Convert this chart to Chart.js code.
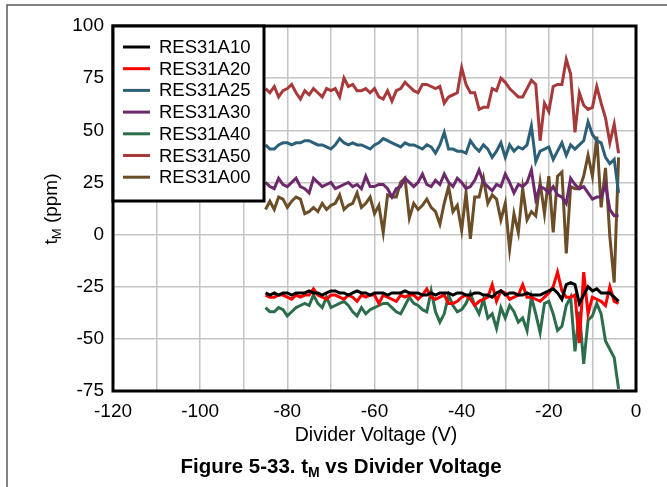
<!DOCTYPE html>
<html>
<head>
<meta charset="utf-8">
<script src="https://cdn.jsdelivr.net/npm/chart.js@4.4.1/dist/chart.umd.min.js"></script>
<style>
  html, body { margin: 0; padding: 0; background: #fff; }
  #wrap { width: 667px; height: 487px; position: relative; }
</style>
</head>
<body>
<div id="wrap"><canvas id="chart" width="667" height="487"></canvas></div>
<script>
const FONT = "'Liberation Sans', Arial, sans-serif";

// divider voltage (V)
const volts = [
  -85, -84, -83, -82, -81, -80, -79, -78, -77, -76,
  -75, -74, -73, -72, -71, -70, -69, -68, -67, -66,
  -65, -64, -63, -62, -61, -60, -59, -58, -57, -56,
  -55, -54, -53, -52, -51, -50, -49, -48, -47, -46,
  -45, -44, -43, -42, -41, -40, -39, -38, -37, -36,
  -35, -34, -33, -32, -31, -30, -29, -28, -27, -26,
  -25, -24, -23, -22, -21, -20, -19, -18, -17, -16,
  -15, -14, -13, -12, -11, -10, -9, -8, -7, -6,
  -5, -4
];

// tM (ppm) per part
const res31a10 = [
  -28, -29, -28, -29, -28, -28, -29, -28, -28, -28,
  -27, -28, -28, -29, -28, -27, -27, -28, -28, -29,
  -28, -27, -28, -28, -29, -28, -28, -28, -29, -28,
  -28, -28, -27, -28, -28, -28, -29, -29, -28, -29,
  -28, -28, -28, -29, -28, -28, -29, -29, -28, -28,
  -29, -29, -30, -28, -27, -29, -28, -28, -29, -29,
  -28, -29, -29, -29, -28, -27, -26, -28, -31, -24,
  -23, -24, -33, -29, -25, -27, -26, -28, -28, -28,
  -30, -32
];
const res31a20 = [
  -29, -30, -30, -29, -29, -30, -31, -29, -30, -29,
  -29, -26, -29, -30, -31, -29, -29, -30, -31, -29,
  -30, -32, -29, -30, -29, -29, -33, -29, -30, -31,
  -32, -29, -30, -29, -29, -31, -29, -26, -30, -31,
  -30, -29, -33, -33, -32, -30, -29, -31, -34, -32,
  -31, -30, -24, -32, -27, -28, -31, -30, -29, -24,
  -30, -30, -31, -32, -30, -28, -25, -18, -27, -30,
  -30, -29, -52, -18, -38, -30, -31, -32, -34, -25,
  -32, -33
];
const res31a25 = [
  43, 41, 41, 43, 44, 44, 43, 44, 44, 45,
  45, 44, 43, 43, 42, 41, 43, 46, 44, 43,
  44, 43, 43, 42, 41, 43, 44, 46, 45, 44,
  43, 42, 44, 43, 43, 42, 41, 43, 42, 39,
  43, 49, 41, 41, 40, 40, 39, 45, 42, 40,
  43, 41, 37, 40, 44, 37, 43, 40, 42, 41,
  43, 52, 35, 40, 41, 42, 36, 40, 44, 38,
  43, 41, 43, 45, 54, 48, 45, 44, 37, 34,
  36, 20
];
const res31a30 = [
  25, 23, 22, 27, 24, 23, 25, 27, 23, 22,
  20, 27, 25, 23, 24, 25, 22, 23, 24, 25,
  23, 24, 22, 28, 23, 23, 24, 24, 22, 18,
  22, 23, 27, 25, 23, 25, 29, 24, 23, 26,
  24, 29, 25, 23, 27, 25, 22, 23, 26, 31,
  25, 23, 21, 24, 23, 29, 25, 20, 24, 23,
  25, 31, 17, 23, 22, 20, 23, 19, 18, 15,
  27, 24, 22, 23, 20, 17, 18, 18, 24, 12,
  9, 9
];
const res31a40 = [
  -35, -37, -37, -35, -36, -39, -37, -35, -34, -33,
  -34, -29, -33, -35, -30, -35, -34, -33, -32, -34,
  -37, -39, -35, -38, -36, -35, -34, -33, -33, -35,
  -37, -38, -34, -30, -33, -34, -36, -37, -27, -37,
  -42, -38, -29, -34, -37, -36, -33, -28, -34, -38,
  -31, -40, -38, -45, -35, -40, -34, -37, -42, -40,
  -46, -30, -38, -47, -33, -32, -38, -46, -44, -34,
  -30, -56, -37, -62, -41, -39, -33, -38, -51, -55,
  -59, -74
];
const res31a50 = [
  70, 68, 71, 66, 69, 70, 72, 68, 65, 69,
  67, 70, 68, 66, 70, 69, 70, 66, 75, 71,
  72, 69, 69, 70, 68, 70, 66, 65, 69, 64,
  69, 70, 73, 71, 69, 68, 72, 72, 71, 70,
  71, 63, 66, 67, 68, 80, 72, 68, 68, 60,
  61, 61, 70, 69, 75, 73, 70, 68, 66, 66,
  70, 74, 72, 45, 63, 59, 71, 72, 72, 84,
  77, 49, 68, 62, 60, 61, 71, 63, 56, 44,
  53, 39
];
const res31a00 = [
  12, 16, 12, 18, 17, 13, 16, 18, 17, 10,
  11, 13, 11, 15, 12, 14, 15, 19, 12, 14,
  15, 20, 13, 15, 18, 10, 14, 1, 19, 18,
  18, 25, 27, 8, 15, 12, 14, 17, 13, 11,
  5, 15, 23, 11, 14, 2, 20, -2, 18, 18,
  27, 15, 19, 17, 7, 15, -7, 10, 1, 22,
  7, 11, 9, 25, 10, 28, 1, 28, 30, -9,
  23, 22, 22, 28, 38, 28, 47, 13, 32, -1,
  -23, 37
];

const seriesNames = ["RES31A10", "RES31A20", "RES31A25", "RES31A30", "RES31A40", "RES31A50", "RES31A00"];
const seriesValues = [res31a10, res31a20, res31a25, res31a30, res31a40, res31a50, res31a00];
const seriesColors = ["#000000", "#ff0000", "#2b6078", "#6c2a6c", "#2c6e4c", "#a8393a", "#6b4d27"];

const datasets = seriesNames.map((name, i) => ({
  label: name,
  data: volts.map((v, j) => ({ x: v, y: seriesValues[i][j] })),
  borderColor: seriesColors[i],
  backgroundColor: seriesColors[i],
  borderWidth: 3,
  pointRadius: 0,
  tension: 0,
  fill: false,
}));

// frame, plot border, legend box and titles
const decorations = {
  id: "decorations",
  afterDraw(chart) {
    const ctx = chart.ctx;
    const a = chart.chartArea;
    ctx.save();

    // page frame
    ctx.strokeStyle = "#5a5a5a";
    ctx.lineWidth = 1.5;
    ctx.beginPath();
    ctx.moveTo(7, 487);
    ctx.lineTo(7, 5);
    ctx.lineTo(667, 5);
    ctx.stroke();

    // plot border
    ctx.strokeStyle = "#000";
    ctx.lineWidth = 3;
    ctx.strokeRect(a.left, a.top, a.right - a.left, a.bottom - a.top);

    // legend
    const lx = a.left, ly = a.top, lw = 151, lh = 175;
    ctx.fillStyle = "#fff";
    ctx.fillRect(lx, ly, lw, lh);
    ctx.strokeRect(lx, ly, lw, lh);
    ctx.font = "18.5px " + FONT;
    ctx.textBaseline = "middle";
    ctx.textAlign = "left";
    seriesNames.forEach((name, i) => {
      const y = ly + 21 + i * 21.7;
      ctx.strokeStyle = seriesColors[i];
      ctx.lineWidth = 3;
      ctx.beginPath();
      ctx.moveTo(lx + 10, y);
      ctx.lineTo(lx + 37, y);
      ctx.stroke();
      ctx.fillStyle = "#000";
      ctx.fillText(name, lx + 46, y + 1);
    });

    // y axis title: t with subscript M
    ctx.save();
    ctx.translate(50, 209);
    ctx.rotate(-Math.PI / 2);
    ctx.fillStyle = "#000";
    ctx.textBaseline = "alphabetic";
    const big = "19px " + FONT, small = "13px " + FONT;
    ctx.font = big;
    const wt = ctx.measureText("t").width;
    const wr = ctx.measureText(" (ppm)").width;
    ctx.font = small;
    const wm = ctx.measureText("M").width;
    let x0 = -(wt + wm + wr) / 2;
    ctx.font = big;
    ctx.fillText("t", x0, 7);
    ctx.font = small;
    ctx.fillText("M", x0 + wt, 11);
    ctx.font = big;
    ctx.fillText(" (ppm)", x0 + wt + wm, 7);
    ctx.restore();

    // x axis title
    ctx.fillStyle = "#000";
    ctx.textAlign = "center";
    ctx.textBaseline = "middle";
    ctx.font = "19.5px " + FONT;
    ctx.fillText("Divider Voltage (V)", 376, 436);

    // figure caption
    const b1 = "Figure 5-33. t", b2 = "M", b3 = " vs Divider Voltage";
    const capBig = "bold 20.5px " + FONT, capSmall = "bold 14px " + FONT;
    ctx.textAlign = "left";
    ctx.textBaseline = "alphabetic";
    ctx.font = capBig;
    const w1 = ctx.measureText(b1).width, w3 = ctx.measureText(b3).width;
    ctx.font = capSmall;
    const w2 = ctx.measureText(b2).width;
    const cx = 341 - (w1 + w2 + w3) / 2;
    ctx.font = capBig;
    ctx.fillText(b1, cx, 473);
    ctx.font = capSmall;
    ctx.fillText(b2, cx + w1, 477);
    ctx.font = capBig;
    ctx.fillText(b3, cx + w1 + w2, 473);

    ctx.restore();
  },
};

new Chart(document.getElementById("chart"), {
  type: "line",
  data: { datasets },
  options: {
    responsive: false,
    animation: false,
    events: [],
    layout: { padding: { left: 0, top: 26, right: 31, bottom: 0 } },
    plugins: {
      legend: { display: false },
      tooltip: { enabled: false },
    },
    scales: {
      x: {
        type: "linear",
        min: -120,
        max: 0,
        afterFit: (s) => { s.height = 96; },
        border: { display: false },
        grid: { color: "#c4c4c4", lineWidth: 1.5, drawTicks: false },
        ticks: {
          stepSize: 10,
          padding: 9,
          color: "#000",
          font: { family: FONT, size: 19 },
          maxRotation: 0,
          autoSkip: false,
          callback: (v) => (v % 20 === 0 ? v : ""),
        },
      },
      y: {
        min: -75,
        max: 100,
        afterFit: (s) => { s.width = 113; },
        border: { display: false },
        grid: { color: "#c4c4c4", lineWidth: 1.5, drawTicks: false },
        ticks: {
          stepSize: 25,
          padding: 9,
          color: "#000",
          font: { family: FONT, size: 19 },
        },
      },
    },
  },
  plugins: [decorations],
});
</script>
</body>
</html>
